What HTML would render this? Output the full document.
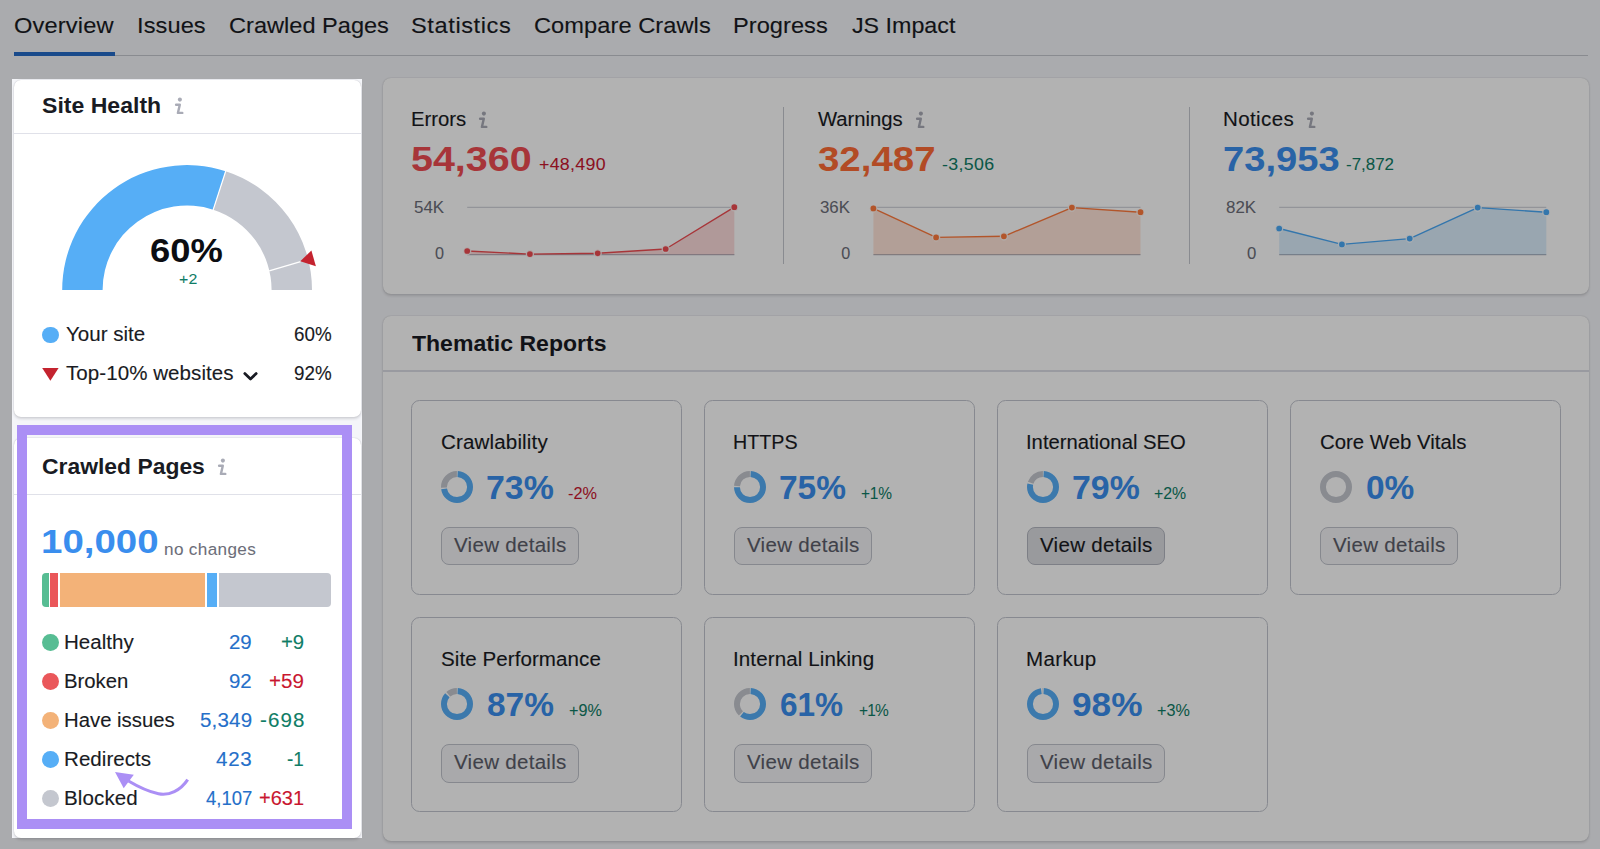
<!DOCTYPE html>
<html lang="en"><head><meta charset="utf-8"><title>Site Audit Overview</title>
<style>
html,body{margin:0;padding:0;background:#f4f5f9}
#page{position:relative;width:1600px;height:849px;overflow:hidden;background:#f4f5f9;font-family:"Liberation Sans",Arial,sans-serif}
.a{position:absolute;display:block}
.t{position:absolute;white-space:nowrap;line-height:1;transform-origin:0 50%;-webkit-text-stroke:0.12px currentColor}
</style></head><body><div id="page">
<span id="t1" class="t " style="left:13.94px;top:15.42px;font-size:22.3px;font-weight:400;color:#191b23;letter-spacing:0.136px;transform:scaleX(1.0600)">Overview</span>
<span id="t2" class="t " style="left:136.68px;top:15.42px;font-size:22.3px;font-weight:400;color:#191b23;letter-spacing:0.070px;transform:scaleX(1.0600)">Issues</span>
<span id="t3" class="t " style="left:228.64px;top:15.42px;font-size:22.3px;font-weight:400;color:#191b23;letter-spacing:0.000px;transform:scaleX(1.0576)">Crawled Pages</span>
<span id="t4" class="t " style="left:411.34px;top:15.42px;font-size:22.3px;font-weight:400;color:#191b23;letter-spacing:0.551px;transform:scaleX(1.0600)">Statistics</span>
<span id="t5" class="t " style="left:533.94px;top:15.42px;font-size:22.3px;font-weight:400;color:#191b23;letter-spacing:0.053px;transform:scaleX(1.0600)">Compare Crawls</span>
<span id="t6" class="t " style="left:732.94px;top:15.42px;font-size:22.3px;font-weight:400;color:#191b23;letter-spacing:0.019px;transform:scaleX(1.0600)">Progress</span>
<span id="t7" class="t " style="left:851.80px;top:15.42px;font-size:22.3px;font-weight:400;color:#191b23;letter-spacing:0.000px;transform:scaleX(1.0427)">JS Impact</span>
<div class="a" style="left:14.00px;top:54.80px;width:1574.00px;height:1.20px;background:#c4c7cf"></div>
<div class="a" style="left:14.00px;top:51.70px;width:100.80px;height:4.30px;background:#246bc8"></div>
<div class="a" style="left:14.00px;top:80.00px;width:347.00px;height:336.50px;background:#fff;border-radius:7px;box-shadow:0 0 1.3px rgba(25,27,35,.2),0 1.3px 2.7px rgba(25,27,35,.14)"></div>
<div class="a" style="left:14.00px;top:133.00px;width:347.00px;height:1.15px;background:#e0e1e9"></div>
<span id="t8" class="t " style="left:42.40px;top:95.28px;font-size:22px;font-weight:700;color:#191b23;letter-spacing:0.000px;transform:scaleX(1.0481);-webkit-text-stroke:0">Site Health</span>
<svg class="a" style="left:173.30px;top:94.00px" width="14" height="22" viewBox="0 0 14 22"><circle cx="6.9" cy="5.6" r="2.05" fill="#a9abb6"/><path d="M3.1 10.7 L6.8 10.7 L4.9 18.9 L9.3 18.9" fill="none" stroke="#a9abb6" stroke-width="2.4" stroke-linecap="round" stroke-linejoin="round"/></svg>
<svg class="a" style="left:0;top:0" width="400" height="420" viewBox="0 0 400 420"><path d="M62.20 290.00 A124.9 124.9 0 0 1 225.70 171.21 L213.21 209.64 A84.5 84.5 0 0 0 102.60 290.00 Z" fill="#56aef6"/><path d="M225.70 171.21 A124.9 124.9 0 0 1 312.00 290.00 L271.60 290.00 A84.5 84.5 0 0 0 213.21 209.64 Z" fill="#c4c7cf"/><path d="M212.90 210.59 L226.01 170.26" stroke="#fff" stroke-width="1.2"/><path d="M269.2 270.8 L300.6 261.7" stroke="#fff" stroke-width="1.3"/><path d="M300.3 261.3 L311.4 250.5 L315.9 266.3 Z" fill="#c4232f"/></svg>
<span id="t9" class="t " style="left:150.48px;top:235.07px;font-size:32.4px;font-weight:700;color:#0c0d12;letter-spacing:0.000px;transform:scaleX(1.1217);-webkit-text-stroke:0">60%</span>
<span id="t10" class="t " style="left:178.80px;top:270.80px;font-size:15px;font-weight:400;color:#0f7d66;letter-spacing:0.221px;transform:scaleX(1.0600);-webkit-text-stroke:0.06px currentColor">+2</span>
<div class="a" style="left:42.00px;top:326.70px;width:16.60px;height:16.60px;background:#56aef6;border-radius:50%"></div>
<span id="t11" class="t " style="left:65.60px;top:325.48px;font-size:19.4px;font-weight:400;color:#191b23;letter-spacing:0.001px;transform:scaleX(1.0600)">Your site</span>
<span id="t12" class="t " style="left:293.60px;top:325.48px;font-size:19.4px;font-weight:400;color:#191b23;letter-spacing:0.000px;transform:scaleX(0.9697)">60%</span>
<svg class="a" style="left:42px;top:368.4px" width="17" height="13" viewBox="0 0 17 13"><path d="M0.2 0 L16.6 0 L8.4 12.8 Z" fill="#c4232f"/></svg>
<span id="t13" class="t " style="left:65.60px;top:363.88px;font-size:19.4px;font-weight:400;color:#191b23;letter-spacing:0.046px;transform:scaleX(1.0600)">Top-10% websites</span>
<svg class="a" style="left:241px;top:369px" width="20" height="14" viewBox="0 0 20 14"><path d="M3.8 4.6 L9.5 10 L15.2 4.6" fill="none" stroke="#191b23" stroke-width="2.8" stroke-linecap="round" stroke-linejoin="round"/></svg>
<span id="t14" class="t " style="left:293.60px;top:363.88px;font-size:19.4px;font-weight:400;color:#191b23;letter-spacing:0.000px;transform:scaleX(0.9697)">92%</span>
<div class="a" style="left:14.00px;top:437.60px;width:347.00px;height:400.40px;background:#fff;border-radius:7px;box-shadow:0 0 1.3px rgba(25,27,35,.2),0 1.3px 2.7px rgba(25,27,35,.14)"></div>
<div class="a" style="left:14.00px;top:493.50px;width:347.00px;height:1.15px;background:#e0e1e9"></div>
<span id="t15" class="t " style="left:42.40px;top:456.28px;font-size:22px;font-weight:700;color:#191b23;letter-spacing:0.000px;transform:scaleX(1.0405);-webkit-text-stroke:0">Crawled Pages</span>
<svg class="a" style="left:216.30px;top:455.40px" width="14" height="22" viewBox="0 0 14 22"><circle cx="6.9" cy="5.6" r="2.05" fill="#a9abb6"/><path d="M3.1 10.7 L6.8 10.7 L4.9 18.9 L9.3 18.9" fill="none" stroke="#a9abb6" stroke-width="2.4" stroke-linecap="round" stroke-linejoin="round"/></svg>
<span id="t16" class="t " style="left:40.73px;top:525.49px;font-size:33.8px;font-weight:700;color:#3a8eee;letter-spacing:0.000px;transform:scaleX(1.1375);-webkit-text-stroke:0">10,000</span>
<span id="t17" class="t " style="left:164.34px;top:540.59px;font-size:16.2px;font-weight:400;color:#6c6e79;letter-spacing:0.318px;transform:scaleX(1.0600);-webkit-text-stroke:0.06px currentColor">no changes</span>
<div class="a" style="left:42.00px;top:573.10px;width:7.00px;height:33.70px;background:#57bd93;border-radius:4px 0 0 4px"></div>
<div class="a" style="left:50.40px;top:573.10px;width:7.60px;height:33.70px;background:#ea575a;border-radius:0"></div>
<div class="a" style="left:59.60px;top:573.10px;width:145.80px;height:33.70px;background:#f3b278;border-radius:0"></div>
<div class="a" style="left:207.00px;top:573.10px;width:10.40px;height:33.70px;background:#56aef6;border-radius:0"></div>
<div class="a" style="left:219.00px;top:573.10px;width:112.20px;height:33.70px;background:#c4c7cf;border-radius:0 4px 4px 0"></div>
<div class="a" style="left:41.90px;top:634.30px;width:16.80px;height:16.80px;background:#57bd93;border-radius:50%"></div>
<span id="t18" class="t " style="left:64.24px;top:633.38px;font-size:19.4px;font-weight:400;color:#191b23;letter-spacing:0.023px;transform:scaleX(1.0600)">Healthy</span>
<span id="t19" class="t " style="left:229.10px;top:633.38px;font-size:19.4px;font-weight:400;color:#256fc9;letter-spacing:0.000px;transform:scaleX(1.0537)">29</span>
<span id="t20" class="t " style="left:281.00px;top:633.38px;font-size:19.4px;font-weight:400;color:#0f7d66;letter-spacing:-0.000px;transform:scaleX(1.0458)">+9</span>
<div class="a" style="left:41.90px;top:673.10px;width:16.80px;height:16.80px;background:#ea575a;border-radius:50%"></div>
<span id="t21" class="t " style="left:64.25px;top:672.18px;font-size:19.4px;font-weight:400;color:#191b23;letter-spacing:-0.000px;transform:scaleX(1.0477)">Broken</span>
<span id="t22" class="t " style="left:229.10px;top:672.18px;font-size:19.4px;font-weight:400;color:#256fc9;letter-spacing:0.000px;transform:scaleX(1.0537)">92</span>
<span id="t23" class="t " style="left:269.20px;top:672.18px;font-size:19.4px;font-weight:400;color:#c9162f;letter-spacing:0.031px;transform:scaleX(1.0600)">+59</span>
<div class="a" style="left:41.90px;top:712.00px;width:16.80px;height:16.80px;background:#f3b278;border-radius:50%"></div>
<span id="t24" class="t " style="left:64.25px;top:711.08px;font-size:19.4px;font-weight:400;color:#191b23;letter-spacing:0.000px;transform:scaleX(1.0479)">Have issues</span>
<span id="t25" class="t " style="left:199.70px;top:711.08px;font-size:19.4px;font-weight:400;color:#256fc9;letter-spacing:0.164px;transform:scaleX(1.0600)">5,349</span>
<span id="t26" class="t " style="left:259.70px;top:711.08px;font-size:19.4px;font-weight:400;color:#0f7d66;letter-spacing:1.036px;transform:scaleX(1.0600)">-698</span>
<div class="a" style="left:41.90px;top:750.90px;width:16.80px;height:16.80px;background:#56aef6;border-radius:50%"></div>
<span id="t27" class="t " style="left:64.24px;top:749.98px;font-size:19.4px;font-weight:400;color:#191b23;letter-spacing:0.034px;transform:scaleX(1.0600)">Redirects</span>
<span id="t28" class="t " style="left:216.10px;top:749.98px;font-size:19.4px;font-weight:400;color:#256fc9;letter-spacing:0.678px;transform:scaleX(1.0600)">423</span>
<span id="t29" class="t " style="left:287.30px;top:749.98px;font-size:19.4px;font-weight:400;color:#0f7d66;letter-spacing:0.000px;transform:scaleX(0.9722)">-1</span>
<div class="a" style="left:41.90px;top:789.80px;width:16.80px;height:16.80px;background:#c4c7cf;border-radius:50%"></div>
<span id="t30" class="t " style="left:64.24px;top:788.88px;font-size:19.4px;font-weight:400;color:#191b23;letter-spacing:0.105px;transform:scaleX(1.0600)">Blocked</span>
<span id="t31" class="t " style="left:205.50px;top:788.88px;font-size:19.4px;font-weight:400;color:#256fc9;letter-spacing:0.000px;transform:scaleX(0.9531)">4,107</span>
<span id="t32" class="t " style="left:259.00px;top:788.88px;font-size:19.4px;font-weight:400;color:#c9162f;letter-spacing:-0.000px;transform:scaleX(1.0328)">+631</span>
<div class="a" style="left:383.00px;top:78.00px;width:1205.50px;height:215.50px;background:#fff;border-radius:8px;box-shadow:0 0 1.3px rgba(25,27,35,.2),0 1.3px 2.7px rgba(25,27,35,.14)"></div>
<div class="a" style="left:783.00px;top:106.80px;width:1.30px;height:157.00px;background:#c4c7cf"></div>
<div class="a" style="left:1188.50px;top:106.80px;width:1.30px;height:157.00px;background:#c4c7cf"></div>
<span id="t33" class="t " style="left:410.75px;top:110.18px;font-size:19.4px;font-weight:400;color:#191b23;letter-spacing:0.000px;transform:scaleX(1.0472)">Errors</span>
<svg class="a" style="left:476.80px;top:108.30px" width="14" height="22" viewBox="0 0 14 22"><circle cx="6.9" cy="5.6" r="2.05" fill="#a9abb6"/><path d="M3.1 10.7 L6.8 10.7 L4.9 18.9 L9.3 18.9" fill="none" stroke="#a9abb6" stroke-width="2.4" stroke-linecap="round" stroke-linejoin="round"/></svg>
<span id="t34" class="t " style="left:410.65px;top:141.97px;font-size:34.3px;font-weight:700;color:#f04d52;letter-spacing:0.000px;transform:scaleX(1.1495);-webkit-text-stroke:0">54,360</span>
<span id="t35" class="t " style="left:539.00px;top:156.88px;font-size:16.8px;font-weight:400;color:#c9162f;letter-spacing:0.276px;transform:scaleX(1.0600);-webkit-text-stroke:0.06px currentColor">+48,490</span>
<span id="t36" class="t " style="left:413.70px;top:198.79px;font-size:16.2px;font-weight:400;color:#6c6e79;letter-spacing:0.000px;transform:scaleX(1.0446);-webkit-text-stroke:0.06px currentColor">54K</span>
<span id="t37" class="t " style="left:435.00px;top:245.39px;font-size:16.2px;font-weight:400;color:#6c6e79;letter-spacing:0.000px;-webkit-text-stroke:0.06px currentColor">0</span>
<svg class="a" style="left:0;top:190px" width="1600" height="80" viewBox="0 190 1600 80"><path d="M467.2 207.3 H734.4" stroke="#d3d5dc" stroke-width="1.2"/><path d="M467.2 254.6 H734.4" stroke="#b4b7c1" stroke-width="1.3"/><path d="M467.2 254.6 L467.2 251.0 L529.9 254.1 L597.7 253.3 L665.7 249.0 L734.3 207.2 L734.3 254.6 Z" fill="#f04d52" fill-opacity="0.2"/><path d="M467.2 251.0 L529.9 254.1 L597.7 253.3 L665.7 249.0 L734.3 207.2" fill="none" stroke="#f04d52" stroke-width="1.4" stroke-linejoin="round"/><circle cx="467.2" cy="251.0" r="3.5" fill="#f04d52" stroke="#fff" stroke-opacity=".85" stroke-width="1.3"/><circle cx="529.9" cy="254.1" r="3.5" fill="#f04d52" stroke="#fff" stroke-opacity=".85" stroke-width="1.3"/><circle cx="597.7" cy="253.3" r="3.5" fill="#f04d52" stroke="#fff" stroke-opacity=".85" stroke-width="1.3"/><circle cx="665.7" cy="249.0" r="3.5" fill="#f04d52" stroke="#fff" stroke-opacity=".85" stroke-width="1.3"/><circle cx="734.3" cy="207.2" r="3.5" fill="#f04d52" stroke="#fff" stroke-opacity=".85" stroke-width="1.3"/></svg>
<span id="t38" class="t " style="left:818.00px;top:110.18px;font-size:19.4px;font-weight:400;color:#191b23;letter-spacing:0.000px;transform:scaleX(1.0437)">Warnings</span>
<svg class="a" style="left:913.50px;top:108.30px" width="14" height="22" viewBox="0 0 14 22"><circle cx="6.9" cy="5.6" r="2.05" fill="#a9abb6"/><path d="M3.1 10.7 L6.8 10.7 L4.9 18.9 L9.3 18.9" fill="none" stroke="#a9abb6" stroke-width="2.4" stroke-linecap="round" stroke-linejoin="round"/></svg>
<span id="t39" class="t " style="left:818.00px;top:141.97px;font-size:34.3px;font-weight:700;color:#ff6c35;letter-spacing:0.000px;transform:scaleX(1.1201);-webkit-text-stroke:0">32,487</span>
<span id="t40" class="t " style="left:942.00px;top:156.88px;font-size:16.8px;font-weight:400;color:#0f7d66;letter-spacing:0.324px;transform:scaleX(1.0600);-webkit-text-stroke:0.06px currentColor">-3,506</span>
<span id="t41" class="t " style="left:820.00px;top:198.79px;font-size:16.2px;font-weight:400;color:#6c6e79;letter-spacing:-0.000px;transform:scaleX(1.0412);-webkit-text-stroke:0.06px currentColor">36K</span>
<span id="t42" class="t " style="left:841.20px;top:245.39px;font-size:16.2px;font-weight:400;color:#6c6e79;letter-spacing:0.000px;-webkit-text-stroke:0.06px currentColor">0</span>
<svg class="a" style="left:0;top:190px" width="1600" height="80" viewBox="0 190 1600 80"><path d="M873.4 207.3 H1140.5" stroke="#d3d5dc" stroke-width="1.2"/><path d="M873.4 254.6 H1140.5" stroke="#b4b7c1" stroke-width="1.3"/><path d="M873.4 254.6 L873.4 208.4 L936.1 237.4 L1003.9 236.3 L1071.9 207.6 L1140.5 212.2 L1140.5 254.6 Z" fill="#ff7a3d" fill-opacity="0.2"/><path d="M873.4 208.4 L936.1 237.4 L1003.9 236.3 L1071.9 207.6 L1140.5 212.2" fill="none" stroke="#ff7a3d" stroke-width="1.4" stroke-linejoin="round"/><circle cx="873.4" cy="208.4" r="3.5" fill="#ff7a3d" stroke="#fff" stroke-opacity=".85" stroke-width="1.3"/><circle cx="936.1" cy="237.4" r="3.5" fill="#ff7a3d" stroke="#fff" stroke-opacity=".85" stroke-width="1.3"/><circle cx="1003.9" cy="236.3" r="3.5" fill="#ff7a3d" stroke="#fff" stroke-opacity=".85" stroke-width="1.3"/><circle cx="1071.9" cy="207.6" r="3.5" fill="#ff7a3d" stroke="#fff" stroke-opacity=".85" stroke-width="1.3"/><circle cx="1140.5" cy="212.2" r="3.5" fill="#ff7a3d" stroke="#fff" stroke-opacity=".85" stroke-width="1.3"/></svg>
<span id="t43" class="t " style="left:1223.14px;top:110.18px;font-size:19.4px;font-weight:400;color:#191b23;letter-spacing:0.355px;transform:scaleX(1.0600)">Notices</span>
<svg class="a" style="left:1304.70px;top:108.30px" width="14" height="22" viewBox="0 0 14 22"><circle cx="6.9" cy="5.6" r="2.05" fill="#a9abb6"/><path d="M3.1 10.7 L6.8 10.7 L4.9 18.9 L9.3 18.9" fill="none" stroke="#a9abb6" stroke-width="2.4" stroke-linecap="round" stroke-linejoin="round"/></svg>
<span id="t44" class="t " style="left:1223.09px;top:141.97px;font-size:34.3px;font-weight:700;color:#3a8eee;letter-spacing:0.000px;transform:scaleX(1.1116);-webkit-text-stroke:0">73,953</span>
<span id="t45" class="t " style="left:1346.30px;top:156.88px;font-size:16.8px;font-weight:400;color:#0f7d66;letter-spacing:0.000px;transform:scaleX(1.0095);-webkit-text-stroke:0.06px currentColor">-7,872</span>
<span id="t46" class="t " style="left:1225.70px;top:198.79px;font-size:16.2px;font-weight:400;color:#6c6e79;letter-spacing:0.000px;transform:scaleX(1.0446);-webkit-text-stroke:0.06px currentColor">82K</span>
<span id="t47" class="t " style="left:1246.70px;top:245.39px;font-size:16.2px;font-weight:400;color:#6c6e79;letter-spacing:0.000px;transform:scaleX(1.0333);-webkit-text-stroke:0.06px currentColor">0</span>
<svg class="a" style="left:0;top:190px" width="1600" height="80" viewBox="0 190 1600 80"><path d="M1279.2 207.3 H1546.3" stroke="#d3d5dc" stroke-width="1.2"/><path d="M1279.2 254.6 H1546.3" stroke="#b4b7c1" stroke-width="1.3"/><path d="M1279.2 254.6 L1279.2 228.5 L1341.9 244.4 L1409.7 238.6 L1477.7 207.6 L1546.3 212.2 L1546.3 254.6 Z" fill="#4aa9f7" fill-opacity="0.2"/><path d="M1279.2 228.5 L1341.9 244.4 L1409.7 238.6 L1477.7 207.6 L1546.3 212.2" fill="none" stroke="#4aa9f7" stroke-width="1.4" stroke-linejoin="round"/><circle cx="1279.2" cy="228.5" r="3.5" fill="#4aa9f7" stroke="#fff" stroke-opacity=".85" stroke-width="1.3"/><circle cx="1341.9" cy="244.4" r="3.5" fill="#4aa9f7" stroke="#fff" stroke-opacity=".85" stroke-width="1.3"/><circle cx="1409.7" cy="238.6" r="3.5" fill="#4aa9f7" stroke="#fff" stroke-opacity=".85" stroke-width="1.3"/><circle cx="1477.7" cy="207.6" r="3.5" fill="#4aa9f7" stroke="#fff" stroke-opacity=".85" stroke-width="1.3"/><circle cx="1546.3" cy="212.2" r="3.5" fill="#4aa9f7" stroke="#fff" stroke-opacity=".85" stroke-width="1.3"/></svg>
<div class="a" style="left:383.00px;top:316.00px;width:1205.50px;height:524.50px;background:#fff;border-radius:8px;box-shadow:0 0 1.3px rgba(25,27,35,.2),0 1.3px 2.7px rgba(25,27,35,.14)"></div>
<div class="a" style="left:383.00px;top:370.40px;width:1205.50px;height:1.20px;background:#dcdde6"></div>
<span id="t48" class="t " style="left:411.80px;top:333.28px;font-size:22px;font-weight:700;color:#191b23;letter-spacing:0.000px;transform:scaleX(1.0464);-webkit-text-stroke:0">Thematic Reports</span>
<div class="a" style="left:411.30px;top:399.80px;width:270.80px;height:195.00px;box-sizing:border-box;border:1.4px solid #c2c5ce;border-radius:8.5px"></div>
<span id="t49" class="t " style="left:441.20px;top:433.38px;font-size:19.4px;font-weight:400;color:#191b23;letter-spacing:0.137px;transform:scaleX(1.0600)">Crawlability</span>
<svg class="a" style="left:440.15px;top:470.05px" width="34" height="34" viewBox="-17 -17 34 34"><circle r="13.05" fill="none" stroke="#56aef6" stroke-width="5.9" stroke-dasharray="58.56 82.00" stroke-dashoffset="-0.65" transform="rotate(-90)"/><circle r="13.05" fill="none" stroke="#c4c7cf" stroke-width="5.9" stroke-dasharray="20.84 82.00" stroke-dashoffset="-60.51" transform="rotate(-90)"/></svg>
<span id="t50" class="t " style="left:485.50px;top:470.12px;font-size:34px;font-weight:700;color:#3a8eee;letter-spacing:0.000px;transform:scaleX(0.9967);-webkit-text-stroke:0">73%</span>
<span id="t51" class="t " style="left:568.00px;top:485.68px;font-size:16.8px;font-weight:400;color:#c9162f;letter-spacing:0.000px;transform:scaleX(0.9692);-webkit-text-stroke:0.06px currentColor">-2%</span>
<div class="a" style="left:441.20px;top:526.90px;width:138.00px;height:38.60px;box-sizing:border-box;border:1.3px solid #c0c3cc;border-radius:8px;background:rgba(138,142,155,.1)"></div>
<span id="t52" class="t " style="left:454.40px;top:535.68px;font-size:19.4px;font-weight:500;color:#5c5e6a;letter-spacing:0.260px;transform:scaleX(1.0600)">View details</span>
<div class="a" style="left:704.30px;top:399.80px;width:270.80px;height:195.00px;box-sizing:border-box;border:1.4px solid #c2c5ce;border-radius:8.5px"></div>
<span id="t53" class="t " style="left:733.18px;top:433.38px;font-size:19.4px;font-weight:400;color:#191b23;letter-spacing:0.000px;transform:scaleX(1.0156)">HTTPS</span>
<svg class="a" style="left:733.15px;top:470.05px" width="34" height="34" viewBox="-17 -17 34 34"><circle r="13.05" fill="none" stroke="#56aef6" stroke-width="5.9" stroke-dasharray="60.20 82.00" stroke-dashoffset="-0.65" transform="rotate(-90)"/><circle r="13.05" fill="none" stroke="#c4c7cf" stroke-width="5.9" stroke-dasharray="19.20 82.00" stroke-dashoffset="-62.15" transform="rotate(-90)"/></svg>
<span id="t54" class="t " style="left:779.32px;top:470.12px;font-size:34px;font-weight:700;color:#3a8eee;letter-spacing:0.000px;transform:scaleX(0.9848);-webkit-text-stroke:0">75%</span>
<span id="t55" class="t " style="left:860.60px;top:485.68px;font-size:16.8px;font-weight:400;color:#0f7d66;letter-spacing:-0.219px;transform:scaleX(0.9200);-webkit-text-stroke:0.06px currentColor">+1%</span>
<div class="a" style="left:734.20px;top:526.90px;width:138.00px;height:38.60px;box-sizing:border-box;border:1.3px solid #c0c3cc;border-radius:8px;background:rgba(138,142,155,.1)"></div>
<span id="t56" class="t " style="left:747.40px;top:535.68px;font-size:19.4px;font-weight:500;color:#5c5e6a;letter-spacing:0.260px;transform:scaleX(1.0600)">View details</span>
<div class="a" style="left:997.30px;top:399.80px;width:270.80px;height:195.00px;box-sizing:border-box;border:1.4px solid #c2c5ce;border-radius:8.5px"></div>
<span id="t57" class="t " style="left:1026.16px;top:433.38px;font-size:19.4px;font-weight:400;color:#191b23;letter-spacing:0.000px;transform:scaleX(1.0436)">International SEO</span>
<svg class="a" style="left:1026.15px;top:470.05px" width="34" height="34" viewBox="-17 -17 34 34"><circle r="13.05" fill="none" stroke="#56aef6" stroke-width="5.9" stroke-dasharray="63.48 82.00" stroke-dashoffset="-0.65" transform="rotate(-90)"/><circle r="13.05" fill="none" stroke="#c4c7cf" stroke-width="5.9" stroke-dasharray="15.92 82.00" stroke-dashoffset="-65.43" transform="rotate(-90)"/></svg>
<span id="t58" class="t " style="left:1072.00px;top:470.12px;font-size:34px;font-weight:700;color:#3a8eee;letter-spacing:0.000px;transform:scaleX(0.9952);-webkit-text-stroke:0">79%</span>
<span id="t59" class="t " style="left:1154.40px;top:485.68px;font-size:16.8px;font-weight:400;color:#0f7d66;letter-spacing:0.000px;transform:scaleX(0.9434);-webkit-text-stroke:0.06px currentColor">+2%</span>
<div class="a" style="left:1027.20px;top:526.90px;width:138.00px;height:38.60px;box-sizing:border-box;border:1.3px solid #b4b7c1;border-radius:8px;background:rgba(138,142,155,.3)"></div>
<span id="t60" class="t " style="left:1040.40px;top:535.68px;font-size:19.4px;font-weight:500;color:#191b23;letter-spacing:0.260px;transform:scaleX(1.0600)">View details</span>
<div class="a" style="left:1290.30px;top:399.80px;width:270.80px;height:195.00px;box-sizing:border-box;border:1.4px solid #c2c5ce;border-radius:8.5px"></div>
<span id="t61" class="t " style="left:1320.20px;top:433.38px;font-size:19.4px;font-weight:400;color:#191b23;letter-spacing:0.000px;transform:scaleX(1.0512)">Core Web Vitals</span>
<svg class="a" style="left:1319.15px;top:470.05px" width="34" height="34" viewBox="-17 -17 34 34"><circle r="13.05" fill="none" stroke="#c4c7cf" stroke-width="5.9"/></svg>
<span id="t62" class="t " style="left:1365.82px;top:470.12px;font-size:34px;font-weight:700;color:#3a8eee;letter-spacing:0.000px;transform:scaleX(0.9831);-webkit-text-stroke:0">0%</span>
<div class="a" style="left:1320.20px;top:526.90px;width:138.00px;height:38.60px;box-sizing:border-box;border:1.3px solid #c0c3cc;border-radius:8px;background:rgba(138,142,155,.1)"></div>
<span id="t63" class="t " style="left:1333.40px;top:535.68px;font-size:19.4px;font-weight:500;color:#5c5e6a;letter-spacing:0.260px;transform:scaleX(1.0600)">View details</span>
<div class="a" style="left:411.30px;top:616.90px;width:270.80px;height:195.00px;box-sizing:border-box;border:1.4px solid #c2c5ce;border-radius:8.5px"></div>
<span id="t64" class="t " style="left:441.20px;top:650.48px;font-size:19.4px;font-weight:400;color:#191b23;letter-spacing:0.065px;transform:scaleX(1.0600)">Site Performance</span>
<svg class="a" style="left:440.15px;top:687.15px" width="34" height="34" viewBox="-17 -17 34 34"><circle r="13.05" fill="none" stroke="#56aef6" stroke-width="5.9" stroke-dasharray="70.04 82.00" stroke-dashoffset="-0.65" transform="rotate(-90)"/><circle r="13.05" fill="none" stroke="#c4c7cf" stroke-width="5.9" stroke-dasharray="9.36 82.00" stroke-dashoffset="-71.99" transform="rotate(-90)"/></svg>
<span id="t65" class="t " style="left:486.72px;top:687.22px;font-size:34px;font-weight:700;color:#3a8eee;letter-spacing:0.000px;transform:scaleX(0.9833);-webkit-text-stroke:0">87%</span>
<span id="t66" class="t " style="left:568.80px;top:702.78px;font-size:16.8px;font-weight:400;color:#0f7d66;letter-spacing:0.000px;transform:scaleX(0.9639);-webkit-text-stroke:0.06px currentColor">+9%</span>
<div class="a" style="left:441.20px;top:744.00px;width:138.00px;height:38.60px;box-sizing:border-box;border:1.3px solid #c0c3cc;border-radius:8px;background:rgba(138,142,155,.1)"></div>
<span id="t67" class="t " style="left:454.40px;top:752.78px;font-size:19.4px;font-weight:500;color:#5c5e6a;letter-spacing:0.260px;transform:scaleX(1.0600)">View details</span>
<div class="a" style="left:704.30px;top:616.90px;width:270.80px;height:195.00px;box-sizing:border-box;border:1.4px solid #c2c5ce;border-radius:8.5px"></div>
<span id="t68" class="t " style="left:733.14px;top:650.48px;font-size:19.4px;font-weight:400;color:#191b23;letter-spacing:0.106px;transform:scaleX(1.0600)">Internal Linking</span>
<svg class="a" style="left:733.15px;top:687.15px" width="34" height="34" viewBox="-17 -17 34 34"><circle r="13.05" fill="none" stroke="#56aef6" stroke-width="5.9" stroke-dasharray="48.72 82.00" stroke-dashoffset="-0.65" transform="rotate(-90)"/><circle r="13.05" fill="none" stroke="#c4c7cf" stroke-width="5.9" stroke-dasharray="30.68 82.00" stroke-dashoffset="-50.67" transform="rotate(-90)"/></svg>
<span id="t69" class="t " style="left:780.17px;top:687.22px;font-size:34px;font-weight:700;color:#3a8eee;letter-spacing:0.000px;transform:scaleX(0.9264);-webkit-text-stroke:0">61%</span>
<span id="t70" class="t " style="left:858.70px;top:702.78px;font-size:16.8px;font-weight:400;color:#0f7d66;letter-spacing:-0.871px;transform:scaleX(0.9200);-webkit-text-stroke:0.06px currentColor">+1%</span>
<div class="a" style="left:734.20px;top:744.00px;width:138.00px;height:38.60px;box-sizing:border-box;border:1.3px solid #c0c3cc;border-radius:8px;background:rgba(138,142,155,.1)"></div>
<span id="t71" class="t " style="left:747.40px;top:752.78px;font-size:19.4px;font-weight:500;color:#5c5e6a;letter-spacing:0.260px;transform:scaleX(1.0600)">View details</span>
<div class="a" style="left:997.30px;top:616.90px;width:270.80px;height:195.00px;box-sizing:border-box;border:1.4px solid #c2c5ce;border-radius:8.5px"></div>
<span id="t72" class="t " style="left:1026.14px;top:650.48px;font-size:19.4px;font-weight:400;color:#191b23;letter-spacing:0.312px;transform:scaleX(1.0600)">Markup</span>
<svg class="a" style="left:1026.15px;top:687.15px" width="34" height="34" viewBox="-17 -17 34 34"><circle r="13.05" fill="none" stroke="#56aef6" stroke-width="5.9" stroke-dasharray="79.06 82.00" stroke-dashoffset="-0.65" transform="rotate(-90)"/><circle r="13.05" fill="none" stroke="#c4c7cf" stroke-width="5.9" stroke-dasharray="0.34 82.00" stroke-dashoffset="-81.01" transform="rotate(-90)"/></svg>
<span id="t73" class="t " style="left:1072.26px;top:687.22px;font-size:34px;font-weight:700;color:#3a8eee;letter-spacing:0.000px;transform:scaleX(1.0371);-webkit-text-stroke:0">98%</span>
<span id="t74" class="t " style="left:1157.10px;top:702.78px;font-size:16.8px;font-weight:400;color:#0f7d66;letter-spacing:0.000px;transform:scaleX(0.9639);-webkit-text-stroke:0.06px currentColor">+3%</span>
<div class="a" style="left:1027.20px;top:744.00px;width:138.00px;height:38.60px;box-sizing:border-box;border:1.3px solid #c0c3cc;border-radius:8px;background:rgba(138,142,155,.1)"></div>
<span id="t75" class="t " style="left:1040.40px;top:752.78px;font-size:19.4px;font-weight:500;color:#5c5e6a;letter-spacing:0.260px;transform:scaleX(1.0600)">View details</span>
<div class="a" style="left:12.00px;top:79.30px;width:350.10px;height:758.80px;box-shadow:0 0 0 3000px rgba(0,0,0,.3);pointer-events:none"></div>
<div class="a" style="left:17.24px;top:425.16px;width:334.76px;height:404.14px;box-sizing:border-box;border-style:solid;border-color:#ab8ff5;border-width:10.85px 10.1px 10.2px 10.3px"></div>
<svg class="a" style="left:100px;top:760px" width="110" height="50" viewBox="100 760 110 50"><path d="M187.7 779.6 C180.5 790.5 169 796 158.5 793.8 C148 791.5 138 786.7 128.5 781" fill="none" stroke="#ab8ff5" stroke-width="3.1" stroke-linecap="butt"/><path d="M115 772 L133.8 774.8 L123.7 788.3 Z" fill="#ab8ff5"/></svg>
</div></body></html>
